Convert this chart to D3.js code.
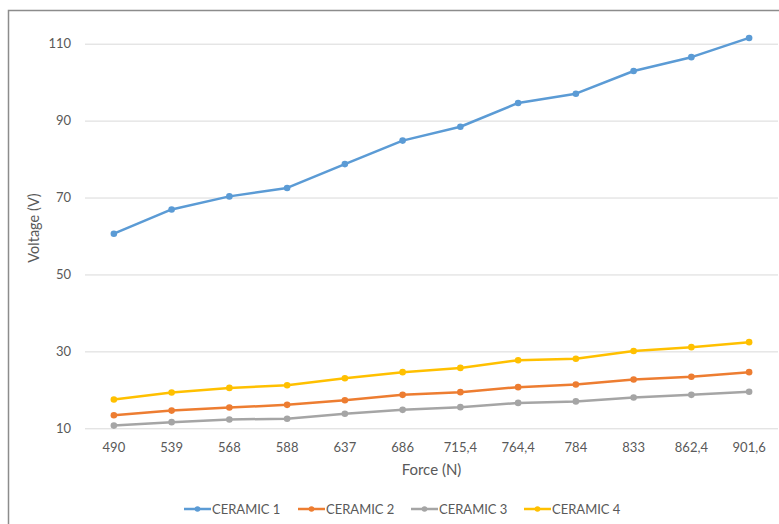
<!DOCTYPE html>
<html>
<head>
<meta charset="utf-8">
<script src="https://cdn.jsdelivr.net/npm/d3@7"></script>
<style>
  html, body { margin: 0; padding: 0; background: #fff; }
  svg { display: block; }
  text { font-family: Lato, "Open Sans", sans-serif; fill: #595959; }
</style>
</head>
<body>
<svg id="chart" width="779" height="524"></svg>
<script>
// Force levels (category labels) and measured voltages per ceramic sample
const forceLabels = ["490", "539", "568", "588", "637", "686", "715,4", "764,4", "784", "833", "862,4", "901,6"];
const ceramic1 = [60.6, 66.9, 70.3, 72.5, 78.7, 84.8, 88.4, 94.6, 97.0, 102.9, 106.5, 111.5];
const ceramic2 = [13.4, 14.6, 15.4, 16.1, 17.3, 18.7, 19.4, 20.7, 21.4, 22.7, 23.4, 24.6];
const ceramic3 = [10.7, 11.6, 12.3, 12.5, 13.8, 14.8, 15.5, 16.6, 17.0, 18.0, 18.7, 19.5];
const ceramic4 = [17.5, 19.3, 20.5, 21.2, 23.0, 24.6, 25.7, 27.7, 28.1, 30.1, 31.1, 32.4];
const seriesNames = ["CERAMIC 1", "CERAMIC 2", "CERAMIC 3", "CERAMIC 4"];
const seriesColors = ["#5B9BD5", "#ED7D31", "#A5A5A5", "#FFC000"];
const yTicks = [10, 30, 50, 70, 90, 110];

const series = [ceramic1, ceramic2, ceramic3, ceramic4].map((vals, i) => ({
  name: seriesNames[i], color: seriesColors[i],
  points: vals.map((v, j) => ({ label: forceLabels[j], value: v }))
}));

const svg = d3.select("#chart");

// outer chart frame
svg.append("rect")
  .attr("x", 8.5).attr("y", 10.5)
  .attr("width", 790).attr("height", 540)
  .attr("fill", "none").attr("stroke", "#8c8c8c").attr("stroke-width", 1.5);

const plot = { left: 85, right: 778, top: 43.7, bottom: 428.3 };

const x = d3.scaleBand().domain(forceLabels).range([plot.left, plot.right]);
const y = d3.scaleLinear().domain([10, 110]).range([plot.bottom, plot.top]);

// horizontal gridlines
const yAxis = d3.axisLeft(y).tickValues(yTicks).tickSize(-(plot.right - plot.left)).tickPadding(14);
const gy = svg.append("g").attr("transform", `translate(${plot.left},0)`).call(yAxis);
gy.select(".domain").remove();
gy.selectAll(".tick line").attr("stroke", "#d9d9d9").attr("stroke-width", 1);
gy.selectAll(".tick text").attr("font-size", 13).attr("fill", "#595959");

// category axis labels
const xAxis = d3.axisBottom(x).tickSize(0).tickPadding(14);
const gx = svg.append("g").attr("transform", `translate(0,${plot.bottom})`).call(xAxis);
gx.select(".domain").remove();
gx.selectAll(".tick text").attr("font-size", 13).attr("fill", "#595959");

// axis titles
svg.append("text")
  .attr("x", (plot.left + plot.right) / 2).attr("y", 475)
  .attr("text-anchor", "middle").attr("font-size", 15)
  .text("Force (N)");
svg.append("text")
  .attr("transform", "translate(39,228) rotate(-90)")
  .attr("text-anchor", "middle").attr("font-size", 14.5)
  .text("Voltage (V)");

// series lines with markers
const line = d3.line()
  .x(d => x(d.label) + x.bandwidth() / 2)
  .y(d => y(d.value));

const sg = svg.append("g").selectAll("g").data(series).join("g");
sg.append("path")
  .attr("d", d => line(d.points))
  .attr("fill", "none")
  .attr("stroke", d => d.color)
  .attr("stroke-width", 2.5)
  .attr("stroke-linejoin", "round");
sg.selectAll("circle").data(d => d.points.map(p => ({ ...p, color: d.color }))).join("circle")
  .attr("cx", d => x(d.label) + x.bandwidth() / 2)
  .attr("cy", d => y(d.value))
  .attr("r", 3.3)
  .attr("fill", d => d.color);

// legend
const legendX = [184, 298, 411, 524];
const lg = svg.append("g").selectAll("g").data(series).join("g")
  .attr("transform", (d, i) => `translate(${legendX[i]},509)`);
lg.append("line")
  .attr("x1", 0).attr("x2", 27)
  .attr("stroke", d => d.color).attr("stroke-width", 2.5);
lg.append("circle").attr("cx", 13.5).attr("r", 2.8).attr("fill", d => d.color);
lg.append("text")
  .attr("x", 28).attr("y", 4.5)
  .attr("font-size", 13)
  .text(d => d.name);
</script>
</body>
</html>
